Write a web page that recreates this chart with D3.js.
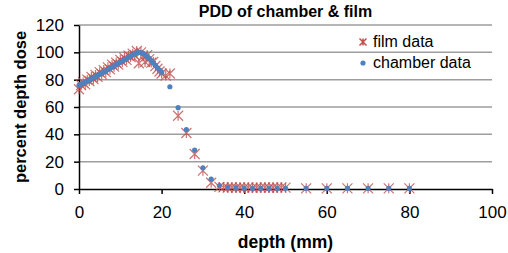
<!DOCTYPE html>
<html>
<head>
<meta charset="utf-8">
<script src="https://cdn.jsdelivr.net/npm/d3@7"></script>
<style>
  body { margin: 0; background: #fff; }
  svg { display: block; font-family: "Liberation Sans", Arial, sans-serif; }
</style>
</head>
<body>
<svg id="chart" width="508" height="253"></svg>
<script>
// chamber measurements (depth mm, percent depth dose)
const chamberDepth = [0, 0.5, 1, 1.5, 2, 2.5, 3, 3.5, 4, 4.5, 5, 5.5, 6, 6.5, 7, 7.5, 8, 8.5, 9, 9.5,
  10, 10.5, 11, 11.5, 12, 12.5, 13, 13.5, 14, 14.5, 15, 15.5, 16, 16.5, 17, 17.5, 18, 18.5, 19, 19.5, 20,
  22, 24, 26, 28, 30, 32, 34, 36, 38, 40, 42, 44, 46, 48, 50, 55, 60, 65, 70, 75, 80];
const chamberDose = [76, 76.8, 77.5, 78.3, 79, 79.8, 80.6, 81.5, 82.3, 83.1, 84, 84.8, 85.7, 86.5, 87.4, 88.3, 89.2, 90.1, 91, 91.9,
  92.8, 93.7, 94.6, 95.5, 96.4, 97.3, 98.2, 99, 99.7, 100, 99.8, 99.2, 98.2, 97, 95.6, 94, 92.3, 90.5, 88.7, 87, 85.5,
  74.8, 59.5, 43.5, 28.5, 15.5, 7.2, 2.5, 1.2, 0.8, 0.6, 0.5, 0.5, 0.5, 0.5, 0.5, 0.5, 0.5, 0.5, 0.5, 0.5, 0.5];

// film measurements
const filmDepth = [0, 0.5, 1, 1.5, 2, 2.5, 3, 3.5, 4, 4.5, 5, 5.5, 6, 6.5, 7, 7.5, 8, 8.5, 9, 9.5,
  10, 10.5, 11, 11.5, 12, 12.5, 13, 13.5, 14, 14.5, 15, 15.5, 16, 16.5, 17, 17.5, 18, 18.5, 19, 19.5, 20, 21, 22,
  24, 26, 28, 30, 32, 34, 35, 36, 37, 38, 39, 40, 41, 42, 43, 44, 45, 46, 47, 48, 49, 50,
  55, 60, 65, 70, 75, 80];
const filmDose = [73, 76, 78, 76.5, 80, 79, 82, 80.5, 83.5, 82, 85.5, 84, 87, 85.5, 89, 87.5, 91, 89.5, 92.5, 91,
  94.5, 93, 96, 94.5, 97.5, 96.5, 99, 98, 101, 92, 100, 97, 93, 98, 95, 92.5, 93, 90, 88, 86, 84.5, 83, 84.5,
  53.6, 41, 25.6, 13.4, 4.6, 1.5, 1.2, 1, 1.3, 0.9, 1.1, 1, 1.2, 0.8, 1.1, 1, 1.2, 0.9, 1.1, 1, 1.2, 1,
  0.5, 0.5, 0.5, 0.5, 0.5, 0.5];

const xTicks = [0, 20, 40, 60, 80, 100];
const yTicks = [0, 20, 40, 60, 80, 100, 120];

const svg = d3.select("#chart");
const margin = { top: 25, right: 16, bottom: 64, left: 79 };
const width = 508, height = 253;

const x = d3.scaleLinear().domain([0, 100]).range([margin.left, width - margin.right]);
const y = d3.scaleLinear().domain([0, 120]).range([height - margin.bottom, margin.top]);

// gridlines
svg.append("g")
  .selectAll("line")
  .data(yTicks.filter(d => d > 0))
  .join("line")
  .attr("x1", x(0)).attr("x2", x(100))
  .attr("y1", d => y(d)).attr("y2", d => y(d))
  .attr("stroke", "#9d9d9d")
  .attr("stroke-width", 1.5);

// axes
const yAxis = svg.append("g")
  .attr("transform", `translate(${x(0)},0)`)
  .call(d3.axisLeft(y).tickValues(yTicks).tickSize(5).tickSizeOuter(0).tickPadding(10));
const xAxis = svg.append("g")
  .attr("transform", `translate(0,${y(0)})`)
  .call(d3.axisBottom(x).tickValues(xTicks).tickSize(5).tickSizeOuter(0).tickPadding(12));

[xAxis, yAxis].forEach(g => {
  g.select(".domain").attr("stroke", "#000").attr("stroke-width", 1.5);
  g.selectAll(".tick line").attr("stroke", "#000").attr("stroke-width", 1.5);
  g.selectAll(".tick text")
    .attr("fill", "#000")
    .style("font-size", "17px")
    .style("font-family", "'Liberation Sans', Arial, sans-serif");
});

// star marker (x with vertical bar)
const star = (s) => `M${-s},${-s}L${s},${s}M${-s},${s}L${s},${-s}M0,${-s}L0,${s}`;
const filmColor = "#c0504d";
const chamberColor = "#4f81bd";

svg.append("g")
  .selectAll("path")
  .data(filmDepth.map((d, i) => [d, filmDose[i]]))
  .join("path")
  .attr("transform", d => `translate(${x(d[0])},${y(d[1])})`)
  .attr("d", star(5))
  .attr("fill", "none")
  .attr("stroke", filmColor)
  .attr("stroke-width", 1.2)
  .attr("opacity", 0.8);

svg.append("g")
  .selectAll("circle")
  .data(chamberDepth.map((d, i) => [d, chamberDose[i]]))
  .join("circle")
  .attr("cx", d => x(d[0]))
  .attr("cy", d => y(d[1]))
  .attr("r", 2.6)
  .attr("fill", chamberColor);

// title and axis labels
svg.append("text")
  .attr("x", (x(0) + x(100)) / 2).attr("y", 17)
  .attr("text-anchor", "middle")
  .style("font-size", "16px").style("font-weight", "bold")
  .text("PDD of chamber & film");

svg.append("text")
  .attr("transform", `translate(26,${(y(0) + y(120)) / 2}) rotate(-90)`)
  .attr("text-anchor", "middle")
  .style("font-size", "16.5px").style("font-weight", "bold")
  .text("percent depth dose");

svg.append("text")
  .attr("x", (x(0) + x(100)) / 2).attr("y", 248)
  .attr("text-anchor", "middle")
  .style("font-size", "17.5px").style("font-weight", "bold")
  .text("depth (mm)");

// legend
const legend = svg.append("g").attr("transform", "translate(363,42)");
legend.append("path")
  .attr("d", star(3.5))
  .attr("fill", "none")
  .attr("stroke", filmColor)
  .attr("stroke-width", 1.5);
legend.append("text")
  .attr("x", 10).attr("y", 5)
  .style("font-size", "16px")
  .text("film data");
legend.append("circle")
  .attr("cx", 0).attr("cy", 21)
  .attr("r", 2.6)
  .attr("fill", chamberColor);
legend.append("text")
  .attr("x", 10).attr("y", 26)
  .style("font-size", "16px")
  .text("chamber data");
</script>
</body>
</html>
